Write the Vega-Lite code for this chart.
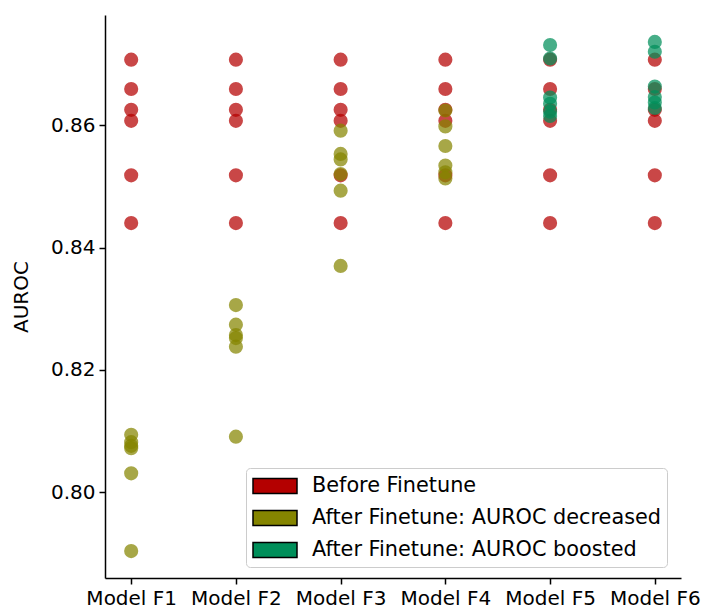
{
  "$schema": "https://vega.github.io/schema/vega-lite/v6.json",
  "width": 576,
  "height": 563,
  "autosize": "none",
  "padding": {"left": 105, "top": 15, "right": 20, "bottom": 34},
  "background": "white",
  "config": {
    "view": {"stroke": null},
    "font": "DejaVu Sans",
    "axis": {
      "domainColor": "black",
      "tickColor": "black",
      "labelColor": "black",
      "titleColor": "black",
      "labelFont": "DejaVu Sans",
      "titleFont": "DejaVu Sans",
      "labelFontSize": 20,
      "titleFontSize": 20,
      "titleFontWeight": "normal",
      "tickSize": 6,
      "domainWidth": 1.5,
      "tickWidth": 1.5,
      "grid": false
    }
  },
  "data": {
    "values": [
      {"model": "Model F1", "auroc": 0.8707, "group": "Before Finetune"},
      {"model": "Model F1", "auroc": 0.8659, "group": "Before Finetune"},
      {"model": "Model F1", "auroc": 0.8625, "group": "Before Finetune"},
      {"model": "Model F1", "auroc": 0.8607, "group": "Before Finetune"},
      {"model": "Model F1", "auroc": 0.8518, "group": "Before Finetune"},
      {"model": "Model F1", "auroc": 0.8440, "group": "Before Finetune"},
      {"model": "Model F2", "auroc": 0.8707, "group": "Before Finetune"},
      {"model": "Model F2", "auroc": 0.8659, "group": "Before Finetune"},
      {"model": "Model F2", "auroc": 0.8625, "group": "Before Finetune"},
      {"model": "Model F2", "auroc": 0.8607, "group": "Before Finetune"},
      {"model": "Model F2", "auroc": 0.8518, "group": "Before Finetune"},
      {"model": "Model F2", "auroc": 0.8440, "group": "Before Finetune"},
      {"model": "Model F3", "auroc": 0.8707, "group": "Before Finetune"},
      {"model": "Model F3", "auroc": 0.8659, "group": "Before Finetune"},
      {"model": "Model F3", "auroc": 0.8625, "group": "Before Finetune"},
      {"model": "Model F3", "auroc": 0.8607, "group": "Before Finetune"},
      {"model": "Model F3", "auroc": 0.8518, "group": "Before Finetune"},
      {"model": "Model F3", "auroc": 0.8440, "group": "Before Finetune"},
      {"model": "Model F4", "auroc": 0.8707, "group": "Before Finetune"},
      {"model": "Model F4", "auroc": 0.8659, "group": "Before Finetune"},
      {"model": "Model F4", "auroc": 0.8625, "group": "Before Finetune"},
      {"model": "Model F4", "auroc": 0.8607, "group": "Before Finetune"},
      {"model": "Model F4", "auroc": 0.8518, "group": "Before Finetune"},
      {"model": "Model F4", "auroc": 0.8440, "group": "Before Finetune"},
      {"model": "Model F5", "auroc": 0.8707, "group": "Before Finetune"},
      {"model": "Model F5", "auroc": 0.8659, "group": "Before Finetune"},
      {"model": "Model F5", "auroc": 0.8625, "group": "Before Finetune"},
      {"model": "Model F5", "auroc": 0.8607, "group": "Before Finetune"},
      {"model": "Model F5", "auroc": 0.8518, "group": "Before Finetune"},
      {"model": "Model F5", "auroc": 0.8440, "group": "Before Finetune"},
      {"model": "Model F6", "auroc": 0.8707, "group": "Before Finetune"},
      {"model": "Model F6", "auroc": 0.8659, "group": "Before Finetune"},
      {"model": "Model F6", "auroc": 0.8625, "group": "Before Finetune"},
      {"model": "Model F6", "auroc": 0.8607, "group": "Before Finetune"},
      {"model": "Model F6", "auroc": 0.8518, "group": "Before Finetune"},
      {"model": "Model F6", "auroc": 0.8440, "group": "Before Finetune"},
      {"model": "Model F1", "auroc": 0.8094, "group": "After Finetune: AUROC decreased"},
      {"model": "Model F1", "auroc": 0.8082, "group": "After Finetune: AUROC decreased"},
      {"model": "Model F1", "auroc": 0.8076, "group": "After Finetune: AUROC decreased"},
      {"model": "Model F1", "auroc": 0.8072, "group": "After Finetune: AUROC decreased"},
      {"model": "Model F1", "auroc": 0.8031, "group": "After Finetune: AUROC decreased"},
      {"model": "Model F1", "auroc": 0.7904, "group": "After Finetune: AUROC decreased"},
      {"model": "Model F2", "auroc": 0.8306, "group": "After Finetune: AUROC decreased"},
      {"model": "Model F2", "auroc": 0.8274, "group": "After Finetune: AUROC decreased"},
      {"model": "Model F2", "auroc": 0.8257, "group": "After Finetune: AUROC decreased"},
      {"model": "Model F2", "auroc": 0.8252, "group": "After Finetune: AUROC decreased"},
      {"model": "Model F2", "auroc": 0.8238, "group": "After Finetune: AUROC decreased"},
      {"model": "Model F2", "auroc": 0.8091, "group": "After Finetune: AUROC decreased"},
      {"model": "Model F3", "auroc": 0.8591, "group": "After Finetune: AUROC decreased"},
      {"model": "Model F3", "auroc": 0.8553, "group": "After Finetune: AUROC decreased"},
      {"model": "Model F3", "auroc": 0.8544, "group": "After Finetune: AUROC decreased"},
      {"model": "Model F3", "auroc": 0.8520, "group": "After Finetune: AUROC decreased"},
      {"model": "Model F3", "auroc": 0.8493, "group": "After Finetune: AUROC decreased"},
      {"model": "Model F3", "auroc": 0.8370, "group": "After Finetune: AUROC decreased"},
      {"model": "Model F4", "auroc": 0.8624, "group": "After Finetune: AUROC decreased"},
      {"model": "Model F4", "auroc": 0.8598, "group": "After Finetune: AUROC decreased"},
      {"model": "Model F4", "auroc": 0.8566, "group": "After Finetune: AUROC decreased"},
      {"model": "Model F4", "auroc": 0.8534, "group": "After Finetune: AUROC decreased"},
      {"model": "Model F4", "auroc": 0.8523, "group": "After Finetune: AUROC decreased"},
      {"model": "Model F4", "auroc": 0.8513, "group": "After Finetune: AUROC decreased"},
      {"model": "Model F5", "auroc": 0.8731, "group": "After Finetune: AUROC boosted"},
      {"model": "Model F5", "auroc": 0.8709, "group": "After Finetune: AUROC boosted"},
      {"model": "Model F5", "auroc": 0.8645, "group": "After Finetune: AUROC boosted"},
      {"model": "Model F5", "auroc": 0.8635, "group": "After Finetune: AUROC boosted"},
      {"model": "Model F5", "auroc": 0.8622, "group": "After Finetune: AUROC boosted"},
      {"model": "Model F5", "auroc": 0.8615, "group": "After Finetune: AUROC boosted"},
      {"model": "Model F6", "auroc": 0.8736, "group": "After Finetune: AUROC boosted"},
      {"model": "Model F6", "auroc": 0.8720, "group": "After Finetune: AUROC boosted"},
      {"model": "Model F6", "auroc": 0.8663, "group": "After Finetune: AUROC boosted"},
      {"model": "Model F6", "auroc": 0.8646, "group": "After Finetune: AUROC boosted"},
      {"model": "Model F6", "auroc": 0.8637, "group": "After Finetune: AUROC boosted"},
      {"model": "Model F6", "auroc": 0.8628, "group": "After Finetune: AUROC boosted"}
    ]
  },
  "mark": {"type": "point", "filled": true, "size": 200, "opacity": 0.72, "strokeWidth": 0},
  "encoding": {
    "x": {
      "field": "model",
      "type": "nominal",
      "scale": {"type": "point", "padding": 0.25},
      "sort": ["Model F1", "Model F2", "Model F3", "Model F4", "Model F5", "Model F6"],
      "axis": {"title": null, "labelAngle": 0, "labelPadding": 4}
    },
    "y": {
      "field": "auroc",
      "type": "quantitative",
      "scale": {"domain": [0.786, 0.878], "nice": false, "zero": false},
      "axis": {"title": "AUROC", "values": [0.80, 0.82, 0.84, 0.86], "format": ".2f", "labelPadding": 4, "titlePadding": 19}
    },
    "color": {
      "field": "group",
      "type": "nominal",
      "scale": {
        "domain": ["Before Finetune", "After Finetune: AUROC decreased", "After Finetune: AUROC boosted"],
        "range": ["#b40000", "#858500", "#008f5a"]
      },
      "legend": {
        "title": null,
        "orient": "none",
        "legendX": 141,
        "legendY": 453,
        "symbolType": "M-2,-0.68L2,-0.68L2,0.68L-2,0.68Z",
        "symbolSize": 484,
        "symbolOffset": 11,
        "symbolOpacity": 1,
        "symbolStrokeColor": "black",
        "symbolStrokeWidth": 1.5,
        "labelFontSize": 20.8,
        "labelFont": "DejaVu Sans",
        "labelColor": "black",
        "labelOffset": 25,
        "labelLimit": 500,
        "rowPadding": 9,
        "padding": 6,
        "strokeColor": "#cccccc",
        "fillColor": "white",
        "cornerRadius": 4
      }
    }
  }
}
